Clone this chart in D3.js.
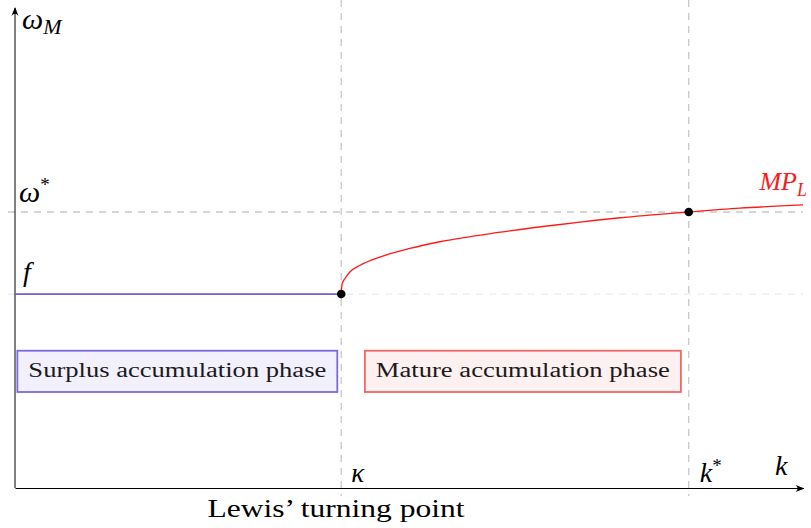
<!DOCTYPE html>
<html><head><meta charset="utf-8">
<script src="https://cdn.jsdelivr.net/npm/d3@7"></script>
<style>
html,body{margin:0;padding:0;background:#fff;}
svg{display:block;}
text{font-family:"Liberation Serif","Times New Roman",serif;}
</style></head>
<body>
<svg id="chart" width="811" height="528"></svg>
<script>
// ---- data ----
const kappa = 4.14;      // Lewis' turning point
const kStar = 8.55;      // k*
const fLevel = 4.04;     // f
const omegaStar = 5.75;  // ω*
const mplK = [4.14, 4.15, 4.19, 4.25, 4.38, 4.63, 5.01, 5.39, 6.16, 6.92, 7.68, 8.55, 9.20, 10.0];
const mplW = [4.04, 4.25, 4.37, 4.50, 4.64, 4.81, 4.99, 5.13, 5.33, 5.49, 5.63, 5.75, 5.83, 5.90];
const phaseLabels = ["Surplus accumulation phase", "Mature accumulation phase"];
const phaseStart = [0.03, 4.44];
const phaseEnd = [4.09, 8.45];
const phaseTop = 2.86, phaseBottom = 2.0;

const svg = d3.select("#chart");
const x = d3.scaleLinear().domain([0, 10]).range([15, 803]);
const y = d3.scaleLinear().domain([0, 10]).range([488, 8]);

const defs = svg.append("defs");
defs.append("marker").attr("id","arr").attr("viewBox","0 0 10 10").attr("refX",9).attr("refY",5)
  .attr("markerWidth",9).attr("markerHeight",9).attr("markerUnits","userSpaceOnUse").attr("orient","auto")
  .append("path").attr("d","M0,1 Q5,5 0,9 L10,5 Z").attr("fill","#000");

const grey = "#c8c8c8";
// dashed guides
svg.append("line").attr("x1", x(kappa)).attr("x2", x(kappa)).attr("y1", 0).attr("y2", y(0)+8)
  .attr("stroke", grey).attr("stroke-width",1.3).attr("stroke-dasharray","7,6");
svg.append("line").attr("x1", x(kStar)).attr("x2", x(kStar)).attr("y1", 0).attr("y2", y(0)+8)
  .attr("stroke", grey).attr("stroke-width",1.3).attr("stroke-dasharray","7,6");
svg.append("line").attr("x1", x(0)-7).attr("x2", x(10)).attr("y1", y(omegaStar)).attr("y2", y(omegaStar))
  .attr("stroke", grey).attr("stroke-width",1.3).attr("stroke-dasharray","7,6");
svg.append("line").attr("x1", x(0)-7).attr("x2", x(10)).attr("y1", y(fLevel)).attr("y2", y(fLevel))
  .attr("stroke", "#ececec").attr("stroke-width",1.3).attr("stroke-dasharray","7,6");

// axes
const xAxis = svg.append("g").attr("transform",`translate(0,${y(0)})`)
  .call(d3.axisBottom(x).tickValues([]).tickSizeOuter(0));
xAxis.select(".domain").attr("stroke","#000").attr("stroke-width",1).attr("marker-end","url(#arr)");
const yAxis = svg.append("g").attr("transform",`translate(${x(0)},0)`)
  .call(d3.axisLeft(y).tickValues([]).tickSizeOuter(0));
yAxis.select(".domain").attr("d", `M0,${y(0)}V${y(10)}`).attr("stroke","#000").attr("stroke-width",1).attr("marker-end","url(#arr)");

// blue flat segment
svg.append("line").attr("x1", x(0)).attr("x2", x(kappa)).attr("y1", y(fLevel)).attr("y2", y(fLevel))
  .attr("stroke","#6f5fd6").attr("stroke-width",1.6);

// MPL curve
const pts = mplK.map((k,i)=>[k, mplW[i]]);
svg.append("path").datum(pts)
  .attr("d", d3.line().x(d=>x(d[0])).y(d=>y(d[1])).curve(d3.curveMonotoneX))
  .attr("fill","none").attr("stroke","#ff1a1a").attr("stroke-width",1.3);

// dots
svg.selectAll("circle.pt").data([[kappa,fLevel],[kStar,omegaStar]]).enter().append("circle")
  .attr("cx",d=>x(d[0])).attr("cy",d=>y(d[1])).attr("r",4.3).attr("fill","#000");

// phase boxes
const boxColors = [{stroke:"#7a6ae0", fill:"#f2f0fd"}, {stroke:"#f06666", fill:"#fdf0f0"}];
phaseLabels.forEach((lab,i)=>{
  const x0 = x(phaseStart[i]), x1 = x(phaseEnd[i]);
  svg.append("rect").attr("x",x0).attr("y",y(phaseTop)).attr("width",x1-x0).attr("height",y(phaseBottom)-y(phaseTop))
    .attr("fill",boxColors[i].fill).attr("stroke",boxColors[i].stroke).attr("stroke-width",1.8);
  svg.append("text").attr("x",(x0+x1)/2).attr("y",(y(phaseTop)+y(phaseBottom))/2+6)
    .attr("text-anchor","middle").attr("font-size",20).attr("fill","#1a1a1a")
    .attr("textLength", x1-x0-22).attr("lengthAdjust","spacingAndGlyphs").text(lab);
});

// labels
const it = (t, px, py, size, color) => svg.append("text").attr("x",px).attr("y",py)
  .attr("font-size",size).attr("font-style","italic").attr("fill",color||"#000").text(t);

const wm = it("ω", x(0)+7, 29, 30);
wm.append("tspan").attr("dy",5).attr("font-size",22).text("M");
const ws = it("ω", x(0)+4, 202, 30);
ws.append("tspan").attr("dy",-11).attr("font-size",19).attr("font-style","normal").text("*");
it("f", x(0)+8, 281, 28);
const mp = it("MP", 807, 190, 26, "#ff1a1a").attr("text-anchor","end");
mp.append("tspan").attr("dy",6).attr("font-size",18).text("L");
it("κ", x(kappa)+10, 482, 27);
const ks = it("k", x(kStar)+11, 482, 28);
ks.append("tspan").attr("dy",-10).attr("font-size",19).attr("font-style","normal").text("*");
it("k", 775, 475, 28);

svg.append("text").attr("x", 336).attr("y", 517).attr("text-anchor","middle").attr("font-size",26)
  .attr("textLength",257).attr("lengthAdjust","spacingAndGlyphs").text("Lewis’ turning point");
</script>
</body></html>
